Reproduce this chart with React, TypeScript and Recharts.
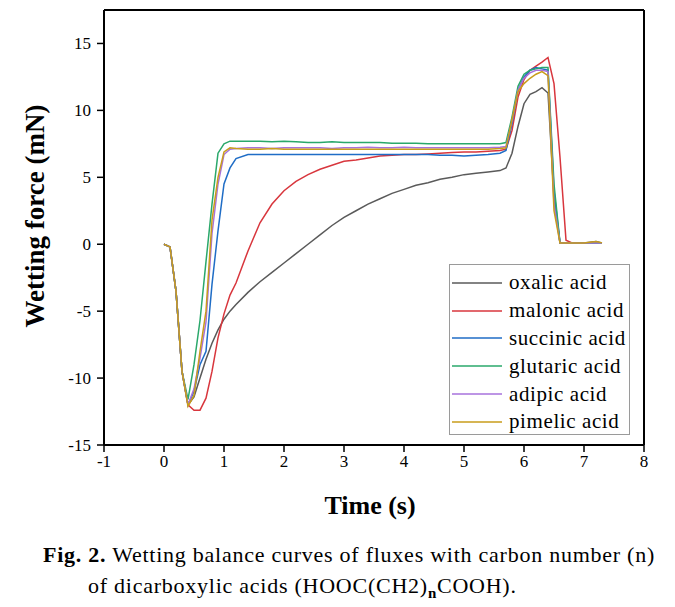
import React from "react";
import { LineChart, Line, XAxis, YAxis, ReferenceLine } from "recharts";

const time = [0, 0.1, 0.2, 0.3, 0.4, 0.5, 0.6, 0.7, 0.8, 0.9, 1.0, 1.1, 1.2, 1.4, 1.6, 1.8, 2.0, 2.2, 2.4, 2.6, 2.8, 3.0, 3.2, 3.4, 3.6, 3.8, 4.0, 4.2, 4.4, 4.6, 4.8, 5.0, 5.2, 5.4, 5.6, 5.7, 5.8, 5.9, 6.0, 6.1, 6.2, 6.3, 6.4, 6.5, 6.6, 6.7, 6.8, 7.0, 7.2, 7.3];

const oxalic = [0, -0.2, -3.5, -9.5, -12.0, -11.4, -10.0, -8.6, -7.4, -6.4, -5.6, -5.0, -4.5, -3.6, -2.8, -2.1, -1.4, -0.7, 0.0, 0.7, 1.4, 2.0, 2.5, 3.0, 3.4, 3.8, 4.1, 4.4, 4.6, 4.85, 5.0, 5.2, 5.3, 5.4, 5.5, 5.7, 6.8, 8.8, 10.5, 11.2, 11.4, 11.7, 11.3, 3.5, 0.1, 0.1, 0.1, 0.1, 0.2, 0.1];
const malonic = [0, -0.2, -3.5, -9.5, -12.0, -12.4, -12.4, -11.5, -9.5, -7.0, -5.2, -3.8, -2.9, -0.5, 1.6, 3.0, 4.0, 4.7, 5.2, 5.6, 5.9, 6.2, 6.3, 6.45, 6.6, 6.65, 6.7, 6.7, 6.75, 6.8, 6.85, 6.9, 6.9, 6.95, 7.0, 7.1, 8.5, 11.0, 12.3, 13.0, 13.3, 13.6, 13.95, 12.0, 6.5, 0.3, 0.1, 0.1, 0.1, 0.1];
const succinic = [0, -0.2, -3.5, -9.5, -12.0, -11.0, -9.0, -8.0, -3.0, 1.0, 4.5, 5.7, 6.4, 6.7, 6.7, 6.7, 6.7, 6.7, 6.7, 6.7, 6.7, 6.7, 6.7, 6.7, 6.7, 6.7, 6.7, 6.7, 6.7, 6.65, 6.65, 6.6, 6.65, 6.7, 6.8, 7.0, 9.0, 11.5, 12.5, 13.0, 13.2, 13.1, 13.0, 4.0, 0.1, 0.1, 0.1, 0.1, 0.1, 0.1];
const glutaric = [0, -0.2, -3.5, -9.5, -11.6, -9.0, -5.7, -1.3, 3.0, 6.8, 7.5, 7.7, 7.7, 7.7, 7.7, 7.65, 7.7, 7.65, 7.6, 7.6, 7.65, 7.6, 7.6, 7.6, 7.6, 7.55, 7.55, 7.55, 7.5, 7.5, 7.5, 7.5, 7.5, 7.5, 7.5, 7.6, 9.5, 11.8, 12.7, 13.0, 13.1, 13.2, 13.2, 4.5, 0.1, 0.1, 0.1, 0.1, 0.1, 0.1];
const adipic = [0, -0.2, -3.5, -9.5, -12.0, -10.8, -8.5, -5.8, 0.8, 4.5, 6.7, 7.1, 7.15, 7.2, 7.2, 7.15, 7.2, 7.2, 7.2, 7.2, 7.15, 7.2, 7.2, 7.25, 7.2, 7.2, 7.25, 7.2, 7.2, 7.2, 7.2, 7.2, 7.2, 7.2, 7.25, 7.3, 9.2, 11.5, 12.4, 12.8, 13.0, 13.0, 12.9, 3.0, 0.1, 0.1, 0.1, 0.1, 0.1, 0.1];
const pimelic = [0, -0.2, -3.5, -9.5, -12.1, -11.3, -8.0, -5.0, 1.8, 5.0, 6.9, 7.2, 7.15, 7.1, 7.1, 7.15, 7.1, 7.1, 7.1, 7.1, 7.1, 7.1, 7.1, 7.1, 7.1, 7.1, 7.1, 7.1, 7.1, 7.1, 7.1, 7.1, 7.1, 7.1, 7.15, 7.2, 9.3, 11.4, 12.0, 12.4, 12.7, 12.9, 12.6, 2.5, 0.1, 0.1, 0.1, 0.1, 0.2, 0.1];

const seriesNames = ["oxalic acid", "malonic acid", "succinic acid", "glutaric acid", "adipic acid", "pimelic acid"];
const seriesKeys = ["oxalic", "malonic", "succinic", "glutaric", "adipic", "pimelic"];
const seriesColors = ["#5a5a5a", "#d8363d", "#1f6dc6", "#2aa86b", "#a772dc", "#c89d1b"];
const seriesValues = [oxalic, malonic, succinic, glutaric, adipic, pimelic];

const xTicks = [-1, 0, 1, 2, 3, 4, 5, 6, 7, 8];
const yTicks = [-15, -10, -5, 0, 5, 10, 15];

const data = time.map((t, i) => {
  const row: Record<string, number> = { t };
  seriesKeys.forEach((k, j) => {
    row[k] = seriesValues[j][i];
  });
  return row;
});

const FONT = "Liberation Serif, Times New Roman, serif";

export default function App() {
  return (
    <div style={{ position: "absolute", left: 0, top: 0, width: 675, height: 607, background: "#fff", fontFamily: FONT }}>
      <LineChart width={675} height={607} data={data} margin={{ top: 10, right: 31, left: 44, bottom: 132 }}>
        <XAxis
          dataKey="t"
          type="number"
          domain={[-1, 8]}
          ticks={xTicks}
          allowDataOverflow
          stroke="#000"
          strokeWidth={2}
          tickSize={7}
          tickMargin={3}
          height={30}
          tick={{ fill: "#000", fontSize: 17, fontFamily: FONT }}
          tickLine={{ stroke: "#000", strokeWidth: 1.5 }}
        />
        <YAxis
          type="number"
          domain={[-15, 17.5]}
          ticks={yTicks}
          allowDataOverflow
          width={60}
          stroke="#000"
          strokeWidth={2}
          tickSize={7}
          tickMargin={6}
          tick={{ fill: "#000", fontSize: 17, fontFamily: FONT }}
          tickLine={{ stroke: "#000", strokeWidth: 1.5 }}
        />
        <ReferenceLine y={17.5} stroke="#000" strokeWidth={2} />
        <ReferenceLine x={8} stroke="#000" strokeWidth={2} />
        {seriesKeys.map((k, i) => (
          <Line
            key={k}
            dataKey={k}
            name={seriesNames[i]}
            type="linear"
            stroke={seriesColors[i]}
            strokeWidth={1.5}
            dot={false}
            isAnimationActive={false}
          />
        ))}
      </LineChart>
      <div
        style={{
          position: "absolute",
          left: 449,
          top: 264,
          width: 181,
          height: 171,
          border: "1px solid #9a9a9a",
          background: "#fff",
          boxSizing: "border-box",
          paddingTop: 4,
        }}
      >
        {seriesNames.map((n, i) => (
          <div key={n} style={{ display: "flex", alignItems: "center", height: 27.8 }}>
            <svg width={54} height={6} style={{ marginLeft: 2 }}>
              <line x1={0} y1={3} x2={50} y2={3} stroke={seriesColors[i]} strokeWidth={1.6} />
            </svg>
            <span style={{ fontSize: 21, letterSpacing: 0.6, color: "#000", marginLeft: 3, lineHeight: "21px" }}>{n}</span>
          </div>
        ))}
      </div>
      <div
        style={{
          position: "absolute",
          left: 35,
          top: 216,
          transform: "translate(-50%, -50%) rotate(-90deg)",
          whiteSpace: "nowrap",
          fontSize: 27,
          fontWeight: "bold",
          color: "#000",
        }}
      >
        Wetting force (mN)
      </div>
      <div
        style={{
          position: "absolute",
          left: 370,
          top: 506,
          transform: "translate(-50%, -50%)",
          whiteSpace: "nowrap",
          fontSize: 26,
          fontWeight: "bold",
          color: "#000",
        }}
      >
        Time (s)
      </div>
      <div
        style={{
          position: "absolute",
          left: 43,
          top: 539,
          whiteSpace: "nowrap",
          fontSize: 22,
          letterSpacing: 0.75,
          color: "#000",
          lineHeight: "31px",
        }}
      >
        <b>Fig. 2.</b> Wetting balance curves of fluxes with carbon number (n)
        <br />
        <span style={{ marginLeft: 45 }}>
          of dicarboxylic acids (HOOC(CH2)<sub style={{ fontSize: 15, fontWeight: "bold" }}>n</sub>COOH).
        </span>
      </div>
    </div>
  );
}
